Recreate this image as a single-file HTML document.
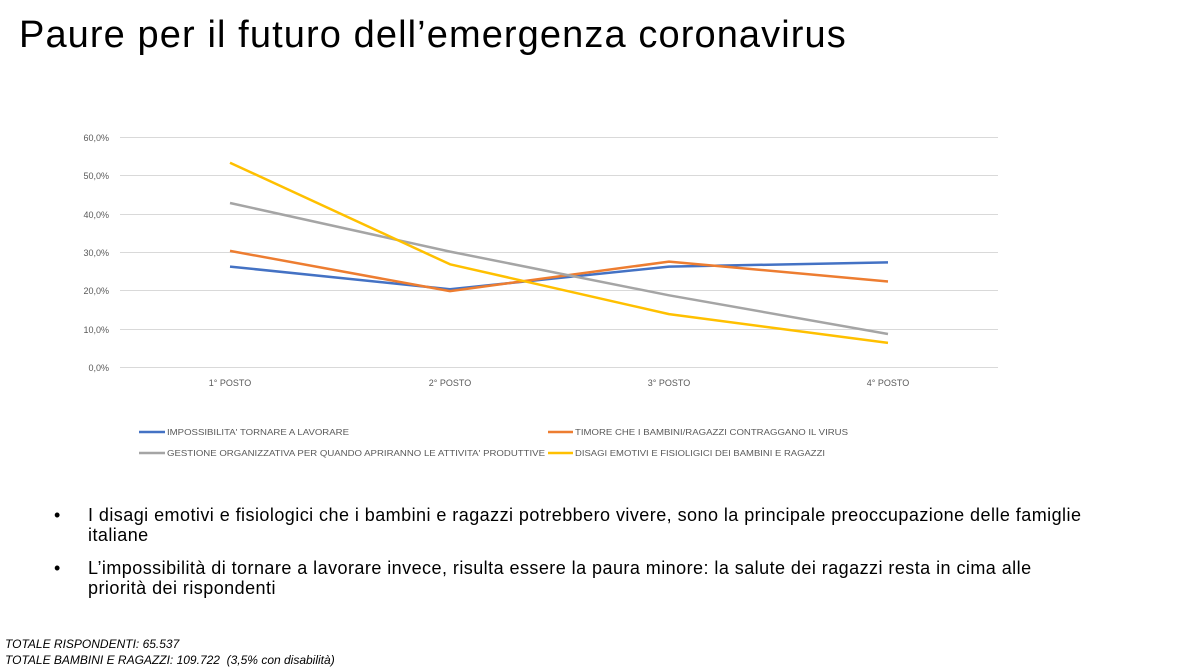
<!DOCTYPE html>
<html><head><meta charset="utf-8"><style>
body{margin:0;width:1188px;height:670px;background:#fff;font-family:"Liberation Sans",sans-serif;position:relative;overflow:hidden}
.t{position:absolute;left:19px;top:14px;font-size:38px;color:#000;letter-spacing:1.1px;white-space:nowrap}
.b{position:absolute;left:58px;font-size:18px;letter-spacing:0.45px;color:#000;line-height:20px}
.b span{position:absolute;left:-4px}
.b div{margin-left:30px;width:1000px}
.f{position:absolute;left:5px;font-size:12px;font-style:italic;color:#000}
</style></head><body>
<div class="t">Paure per il futuro dell’emergenza coronavirus</div>
<svg width="1188" height="670" style="position:absolute;left:0;top:0" font-family="Liberation Sans" >
<g stroke="#d9d9d9" stroke-width="1">
<line x1="120" x2="998" y1="137.5" y2="137.5"/><line x1="120" x2="998" y1="175.5" y2="175.5"/><line x1="120" x2="998" y1="214.5" y2="214.5"/><line x1="120" x2="998" y1="252.5" y2="252.5"/><line x1="120" x2="998" y1="290.5" y2="290.5"/><line x1="120" x2="998" y1="329.5" y2="329.5"/><line x1="120" x2="998" y1="367.5" y2="367.5"/>
</g>
<g font-size="9" fill="#595959" text-anchor="end">
<text x="109" y="141">60,0%</text><text x="109" y="179">50,0%</text><text x="109" y="218">40,0%</text><text x="109" y="256">30,0%</text><text x="109" y="294">20,0%</text><text x="109" y="333">10,0%</text><text x="109" y="371">0,0%</text>
</g>
<g font-size="9" fill="#595959" text-anchor="middle">
<text x="230" y="386">1° POSTO</text><text x="450" y="386">2° POSTO</text><text x="669" y="386">3° POSTO</text><text x="888" y="386">4° POSTO</text>
</g>
<g fill="none" stroke-width="2.5" stroke-linejoin="round">
<polyline stroke="#4472c4" points="230,266.6 450,289.2 669,266.6 888,262.4"/>
<polyline stroke="#ed7d31" points="230,250.9 450,291.1 669,261.6 888,281.5"/>
<polyline stroke="#a5a5a5" points="230,203 450,251.6 669,295.3 888,334"/>
<polyline stroke="#ffc000" points="230,162.7 450,264.3 669,314.1 888,342.9"/>
</g>
<g stroke-width="2.5">
<line x1="139" x2="165" y1="432" y2="432" stroke="#4472c4"/>
<line x1="548" x2="573" y1="432" y2="432" stroke="#ed7d31"/>
<line x1="139" x2="165" y1="453" y2="453" stroke="#a5a5a5"/>
<line x1="548" x2="573" y1="453" y2="453" stroke="#ffc000"/>
</g>
<g font-size="8.5" fill="#595959">
<text x="167" y="435" textLength="182" lengthAdjust="spacingAndGlyphs">IMPOSSIBILITA' TORNARE A LAVORARE</text>
<text x="575" y="435" textLength="273" lengthAdjust="spacingAndGlyphs">TIMORE CHE I BAMBINI/RAGAZZI CONTRAGGANO IL VIRUS</text>
<text x="167" y="456" textLength="378" lengthAdjust="spacingAndGlyphs">GESTIONE ORGANIZZATIVA PER QUANDO APRIRANNO LE ATTIVITA' PRODUTTIVE</text>
<text x="575" y="456" textLength="250" lengthAdjust="spacingAndGlyphs">DISAGI EMOTIVI E FISIOLIGICI DEI BAMBINI E RAGAZZI</text>
</g>
</svg>
<div class="b" style="top:505px"><span>•</span><div>I disagi emotivi e fisiologici che i bambini e ragazzi potrebbero vivere, sono la principale preoccupazione delle famiglie italiane</div></div>
<div class="b" style="top:558px"><span>•</span><div>L’impossibilità di tornare a lavorare invece, risulta essere la paura minore: la salute dei ragazzi resta in cima alle priorità dei rispondenti</div></div>
<div class="f" style="top:637px">TOTALE RISPONDENTI: 65.537</div>
<div class="f" style="top:653px">TOTALE BAMBINI E RAGAZZI: 109.722 &nbsp;(3,5% con disabilità)</div>
</body></html>
